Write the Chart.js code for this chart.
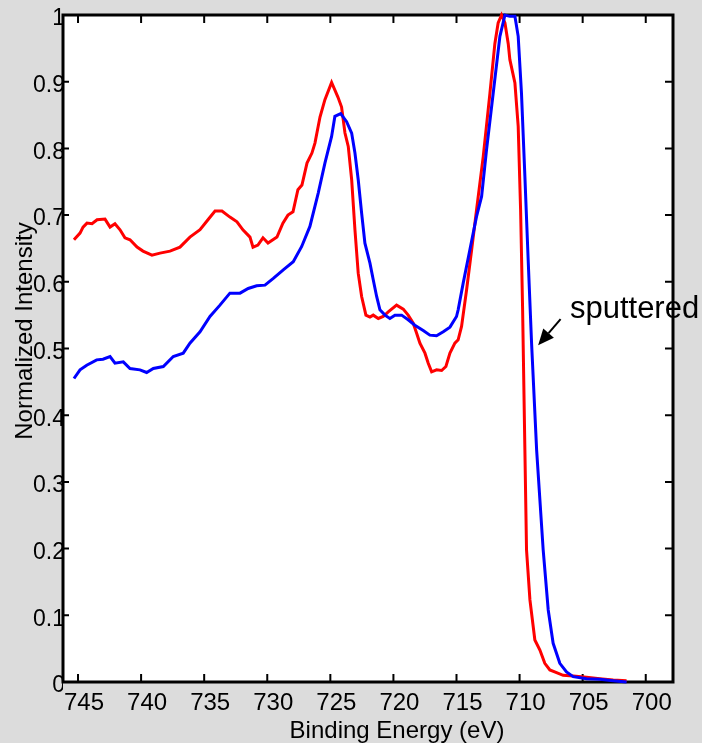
<!DOCTYPE html>
<html lang="en">

<head>
  <meta charset="UTF-8" />
  <title>Binding Energy | XPS</title>
  <script src="https://cdn.jsdelivr.net/npm/chart.js@4.4.1/dist/chart.umd.min.js"></script>
  <style>
    html, body { margin: 0; padding: 0; background: #dcdcdc; }
    .chart-wrapper { position: relative; width: 702px; height: 743px; }
  </style>
</head>

<body>
  <div class="chart-wrapper">
    <canvas id="xps-graph"></canvas>
  </div>

<script>
  // red: as received, blue: sputtered
  const redEnergy = [745.32, 744.84, 744.60, 744.29, 743.89, 743.49, 742.86, 742.46, 742.07, 741.67,
    741.28, 740.88, 740.32, 739.85, 739.14, 738.50, 737.71, 736.92, 736.13, 735.33,
    734.70, 734.14, 733.59, 732.96, 732.40, 731.93, 731.37, 731.13, 730.74, 730.34,
    729.94, 729.23, 728.76, 728.36, 727.96, 727.57, 727.25, 726.85, 726.46, 726.22,
    725.82, 725.43, 724.90, 724.40, 724.11, 723.84, 723.58, 723.31, 723.05, 722.79,
    722.52, 722.18, 721.86, 721.60, 721.20, 720.81, 720.41, 719.75, 719.22, 718.83,
    718.43, 718.16, 717.90, 717.50, 717.24, 716.97, 716.58, 716.18, 715.84, 715.52,
    715.13, 714.87, 714.60, 714.20, 713.80, 713.41, 712.88, 712.35, 711.96, 711.70,
    711.43, 711.16, 710.90, 710.77, 710.37, 710.11, 709.92, 709.76, 709.58, 709.45,
    709.18, 708.79, 708.39, 708.00, 707.60, 707.07, 706.55, 705.75, 704.69, 703.64,
    702.58, 701.52];
  const redIntensity = [0.663, 0.673, 0.682, 0.688, 0.687, 0.693, 0.694, 0.682, 0.687, 0.678,
    0.666, 0.663, 0.652, 0.646, 0.640, 0.643, 0.646, 0.652, 0.667, 0.678,
    0.693, 0.706, 0.706, 0.697, 0.690, 0.678, 0.667, 0.652, 0.655, 0.666,
    0.658, 0.667, 0.688, 0.700, 0.705, 0.738, 0.745, 0.778, 0.793, 0.808,
    0.847, 0.873, 0.899, 0.877, 0.862, 0.823, 0.803, 0.753, 0.678, 0.613,
    0.578, 0.550, 0.547, 0.550, 0.545, 0.548, 0.555, 0.565, 0.559, 0.550,
    0.538, 0.523, 0.508, 0.493, 0.478, 0.465, 0.468, 0.467, 0.473, 0.493,
    0.508, 0.513, 0.533, 0.588, 0.648, 0.708, 0.788, 0.883, 0.957, 0.988,
    1.000, 0.988, 0.957, 0.933, 0.898, 0.833, 0.708, 0.558, 0.348, 0.198,
    0.123, 0.063, 0.048, 0.028, 0.018, 0.014, 0.010, 0.009, 0.007, 0.005,
    0.003, 0.002];

  const blueEnergy = [745.32, 744.84, 744.31, 743.52, 743.02, 742.46, 742.07, 741.41, 740.88, 740.09,
    739.56, 739.03, 738.24, 737.45, 736.66, 736.13, 735.33, 734.54, 733.75, 732.96,
    732.16, 731.51, 730.84, 730.18, 729.52, 728.73, 727.94, 727.27, 726.62, 725.96,
    725.43, 724.90, 724.64, 724.18, 723.71, 723.31, 723.05, 722.79, 722.52, 722.26,
    721.86, 721.60, 721.33, 721.07, 720.67, 720.28, 719.88, 719.35, 718.83, 718.30,
    717.64, 717.11, 716.58, 716.05, 715.52, 715.00, 714.87, 714.47, 713.94, 713.41,
    713.01, 712.62, 712.09, 711.56, 711.16, 710.77, 710.37, 710.11, 709.85, 709.58,
    709.32, 709.05, 708.65, 708.13, 707.73, 707.34, 706.81, 706.28, 705.75, 704.69,
    703.64, 702.58, 701.52];
  const blueIntensity = [0.455, 0.468, 0.475, 0.483, 0.484, 0.488, 0.478, 0.480, 0.470, 0.468,
    0.464, 0.470, 0.473, 0.488, 0.493, 0.508, 0.525, 0.548, 0.565, 0.583,
    0.583, 0.590, 0.594, 0.595, 0.605, 0.618, 0.630, 0.653, 0.683, 0.733,
    0.778, 0.818, 0.848, 0.852, 0.840, 0.823, 0.793, 0.753, 0.703, 0.658,
    0.628, 0.603, 0.578, 0.558, 0.550, 0.545, 0.550, 0.550, 0.543, 0.535,
    0.527, 0.520, 0.519, 0.525, 0.532, 0.548, 0.558, 0.598, 0.648, 0.698,
    0.728, 0.798, 0.883, 0.968, 1.000, 0.998, 0.998, 0.968, 0.883, 0.758,
    0.633, 0.508, 0.348, 0.198, 0.108, 0.058, 0.028, 0.015, 0.008, 0.005,
    0.004, 0.002, 0.000];

  const xTicks = [745, 740, 735, 730, 725, 720, 715, 710, 705, 700];
  const yTicks = [0, 0.1, 0.2, 0.3, 0.4, 0.5, 0.6, 0.7, 0.8, 0.9, 1];
  const xTitle = 'Binding Energy (eV)';
  const yTitle = 'Normalized Intensity';

  // annotation (data coords)
  const noteText = 'sputtered';
  const noteAt = [706.01, 0.546];
  const arrowFrom = [706.75, 0.544];
  const arrowTo = [708.53, 0.505];

  const FONT = '"Liberation Sans", Arial, sans-serif';

  const boxPlugin = {
    id: 'box',
    beforeDraw(chart) {
      const { ctx, chartArea: a } = chart;
      ctx.save();
      ctx.fillStyle = '#ffffff';
      ctx.fillRect(a.left, a.top, a.right - a.left, a.bottom - a.top);
      ctx.restore();
    },
    beforeDatasetsDraw(chart) {
      const { ctx, chartArea: a, scales } = chart;
      ctx.save();
      ctx.strokeStyle = '#000';
      ctx.lineWidth = 2;
      ctx.beginPath();
      xTicks.forEach(v => {
        const px = scales.x.getPixelForValue(v);
        ctx.moveTo(px, a.bottom); ctx.lineTo(px, a.bottom - 8);
        ctx.moveTo(px, a.top); ctx.lineTo(px, a.top + 8);
      });
      yTicks.forEach(v => {
        const py = scales.y.getPixelForValue(v);
        ctx.moveTo(a.left, py); ctx.lineTo(a.left + 6, py);
        ctx.moveTo(a.right, py); ctx.lineTo(a.right - 8, py);
      });
      ctx.stroke();
      ctx.lineWidth = 3;
      ctx.strokeRect(a.left, a.top, a.right - a.left, a.bottom - a.top);
      ctx.restore();
    },
    afterDatasetsDraw(chart) {
      const { ctx, scales } = chart;
      const x0 = scales.x.getPixelForValue(arrowFrom[0]);
      const y0 = scales.y.getPixelForValue(arrowFrom[1]);
      const x1 = scales.x.getPixelForValue(arrowTo[0]);
      const y1 = scales.y.getPixelForValue(arrowTo[1]);
      const ang = Math.atan2(y1 - y0, x1 - x0);
      const hl = 16, hw = 7;
      const bx = x1 - hl * Math.cos(ang), by = y1 - hl * Math.sin(ang);
      ctx.save();
      ctx.strokeStyle = '#000';
      ctx.fillStyle = '#000';
      ctx.lineWidth = 2;
      ctx.beginPath();
      ctx.moveTo(x0, y0); ctx.lineTo(bx, by);
      ctx.stroke();
      ctx.beginPath();
      ctx.moveTo(x1, y1);
      ctx.lineTo(bx + hw * Math.sin(ang), by - hw * Math.cos(ang));
      ctx.lineTo(bx - hw * Math.sin(ang), by + hw * Math.cos(ang));
      ctx.closePath();
      ctx.fill();
      ctx.font = '31px ' + FONT;
      ctx.textAlign = 'left';
      ctx.textBaseline = 'alphabetic';
      ctx.fillText(noteText, scales.x.getPixelForValue(noteAt[0]), scales.y.getPixelForValue(noteAt[1]));
      ctx.restore();
    },
    afterDraw(chart) {
      const { ctx } = chart;
      ctx.save();
      ctx.fillStyle = '#000';
      ctx.font = '24px ' + FONT;
      ctx.textAlign = 'center';
      ctx.textBaseline = 'alphabetic';
      ctx.fillText(xTitle, 397, 738);
      ctx.translate(32, 331);
      ctx.rotate(-Math.PI / 2);
      ctx.fillText(yTitle, 0, 0);
      ctx.restore();
    }
  };

  const xpsChart = new Chart(document.getElementById('xps-graph').getContext('2d'), {
    type: 'line',
    data: {
      datasets: [{
          label: 'sputtered',
          data: blueEnergy.map((e, i) => ({ x: e, y: blueIntensity[i] })),
          borderColor: '#0000ff',
          borderWidth: 3,
          pointRadius: 0,
          tension: 0,
          clip: 5
        },
        {
          label: 'as received',
          data: redEnergy.map((e, i) => ({ x: e, y: redIntensity[i] })),
          borderColor: '#ff0000',
          borderWidth: 3,
          pointRadius: 0,
          tension: 0,
          clip: 5
        }
      ]
    },
    options: {
      responsive: true,
      maintainAspectRatio: false,
      animation: false,
      layout: { padding: { top: 15, right: 29, left: 0, bottom: 0 } },
      plugins: { legend: { display: false }, tooltip: { enabled: false } },
      scales: {
        x: {
          type: 'linear',
          reverse: true,
          min: 697.84,
          max: 746.19,
          grid: { display: false, drawTicks: false },
          border: { display: false },
          afterBuildTicks: s => { s.ticks = xTicks.map(v => ({ value: v })); },
          afterFit: s => { s.height = 61; },
          ticks: {
            autoSkip: false,
            maxRotation: 0,
            padding: 7,
            labelOffset: 6,
            color: '#000',
            font: { family: FONT, size: 24 },
            callback: v => String(v)
          }
        },
        y: {
          type: 'linear',
          min: 0,
          max: 1,
          grid: { display: false, drawTicks: false },
          border: { display: false },
          afterBuildTicks: s => { s.ticks = yTicks.map(v => ({ value: v })); },
          afterFit: s => { s.width = 63; },
          ticks: {
            autoSkip: false,
            padding: -2,
            labelOffset: 4,
            color: '#000',
            font: { family: FONT, size: 23 },
            callback: v => String(Math.round(v * 10) / 10)
          }
        }
      }
    },
    plugins: [boxPlugin]
  });
</script>
</body>

</html>
